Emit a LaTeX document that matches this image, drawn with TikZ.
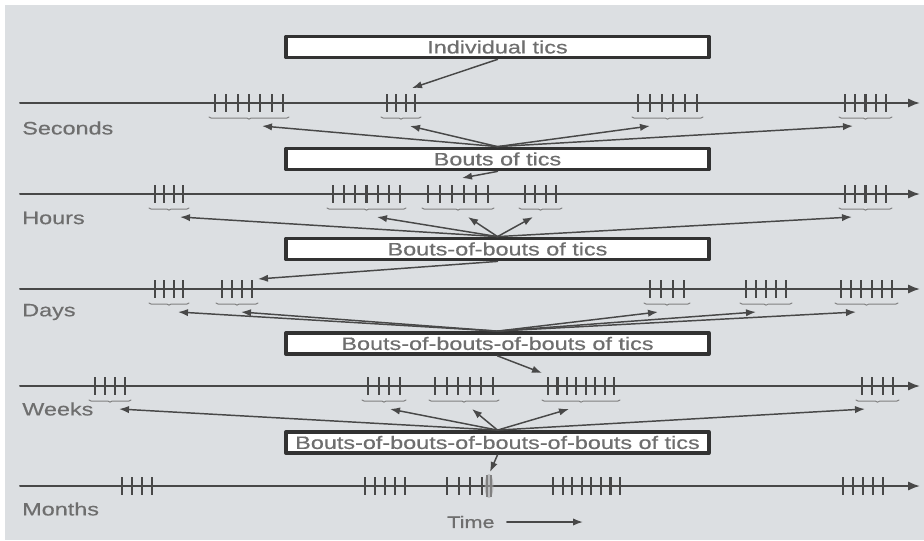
\documentclass[tikz,border=0pt]{standalone}
\usepackage{fontspec}
\newfontfamily\widesans{Liberation Sans}[FakeStretch=1.3,FakeBold=0.5]
\usetikzlibrary{arrows.meta,decorations.pathreplacing}
\definecolor{bggray}{RGB}{220,223,226}
\definecolor{inkgray}{RGB}{72,72,72}
\definecolor{txtgray}{RGB}{110,110,110}
\definecolor{boxline}{RGB}{50,50,50}
\begin{document}
\begin{tikzpicture}[x=0.75pt,y=-0.75pt,line join=round,line cap=round]
	\tikzset{every node/.style={font=\widesans\fontsize{13.5}{15}\selectfont,text=txtgray},
		tbox/.style={draw=boxline,line width=2.6pt,fill=white,minimum width=317pt,minimum height=16pt,inner sep=0pt},
		axis/.style={draw=inkgray,line width=1.5pt,-{Latex[length=9pt,width=7pt]}},
		tic/.style={draw=inkgray,line width=1.6pt,line cap=butt},
		brc/.style={draw=gray,line width=0.7pt,decorate,decoration={brace,mirror,amplitude=1.6pt}},
		arr/.style={draw=inkgray,line width=1.1pt,-{Latex[length=7.5pt,width=5.5pt]}}}
	\useasboundingbox (0,0) rectangle (924,540);
	\fill[bggray] (5,5) rectangle (924,540);
	\foreach \yy/\lbl/\ly in {103/Seconds/128,194/Hours/218,289/Days/312,386/Weeks/409,486/Months/509}{
		\draw[axis] (20,\yy) -- (920,\yy);
		\node[anchor=west,inner sep=0pt] (\lbl) at (22,\ly) {\lbl};
	}
	\foreach \nm/\xa/\xb/\n/\yy/\tx in {sA/215/283/7/103/262,sB/387/415/4/103/410,sC/638/697/6/103/650,sD/845/886/5/103/853,
		hA/155/183/4/194/180,hB/333/400/7/194/377,hC/428/488/6/194/468,hD/525/556/4/194/533,hE/845/886/5/194/852,
		dA/155/183/4/289/178,dB/222/252/4/289/241,dC/650/684/4/289/658,dD/746/786/5/289/756,dE/841/892/6/289/856,
		wA/95/125/4/386/119,wB/368/400/4/386/390,wC/435/493/6/386/472,wD/548/614/8/386/569,wE/862/893/4/386/865}{
		\pgfmathsetmacro\dx{(\xb-\xa)/(\n-1)}
		\foreach \i in {1,...,\n}
		\draw[tic] ({\xa+(\i-1)*\dx},\yy-9) -- ++(0,18);
		\draw[brc] (\xa-6,\yy+14) -- (\xb+6,\yy+14);
		\coordinate (\nm) at (\tx,\yy+23);
	}
	\foreach \xa/\xb/\n in {122/152/4,365/405/5,447/482/4,553/620/8,843/883/5}{
		\pgfmathsetmacro\dx{(\xb-\xa)/(\n-1)}
		\foreach \i in {1,...,\n}
		\draw[tic] ({\xa+(\i-1)*\dx},477) -- ++(0,18);
	}
	\fill[gray!70,opacity=0.6] (489,486) ellipse (4.5 and 12);
	\draw[tic,gray] (487,475) -- (487,497) (491,475) -- (491,497);
	\node[tbox] (indiv) at (497.5,47) {Individual tics};
	\node[tbox] (bouts) at (497.5,159) {Bouts of tics};
	\node[tbox] (bbouts) at (497.5,249) {Bouts-of-bouts of tics};
	\node[tbox] (bbbouts) at (497.5,343.5) {Bouts-of-bouts-of-bouts of tics};
	\node[tbox] (bbbbouts) at (497.5,442.5) {Bouts-of-bouts-of-bouts-of-bouts of tics};
	\coordinate (sBtop) at (412,88);
	\coordinate (hCtop) at (462,178);
	\coordinate (dBtop) at (258,279);
	\coordinate (wDtop) at (542,373);
	\coordinate (mCtop) at (490,472);
	\draw[arr] (indiv.south) -- (sBtop);
	\foreach \g in {sA,sB,sC,sD}
	\draw[arr] (bouts.north) -- (\g);
	\draw[arr] (bouts.south) -- (hCtop);
	\foreach \g in {hA,hB,hC,hD,hE}
	\draw[arr] (bbouts.north) -- (\g);
	\draw[arr] (bbouts.south) -- (dBtop);
	\foreach \g in {dA,dB,dC,dD,dE}
	\draw[arr] (bbbouts.north) -- (\g);
	\draw[arr] (bbbouts.south) -- (wDtop);
	\foreach \g in {wA,wB,wC,wD,wE}
	\draw[arr] (bbbbouts.north) -- (\g);
	\draw[arr] (bbbbouts.south) -- (mCtop);
	\node[anchor=west,inner sep=0pt,font=\widesans\fontsize{12.5}{14}\selectfont] (timelbl) at (447,522) {Time};
	\coordinate (timeend) at (583,522);
	\draw[arr,shorten <=9pt] (timelbl.east) -- (timeend);
\end{tikzpicture}
\end{document}
